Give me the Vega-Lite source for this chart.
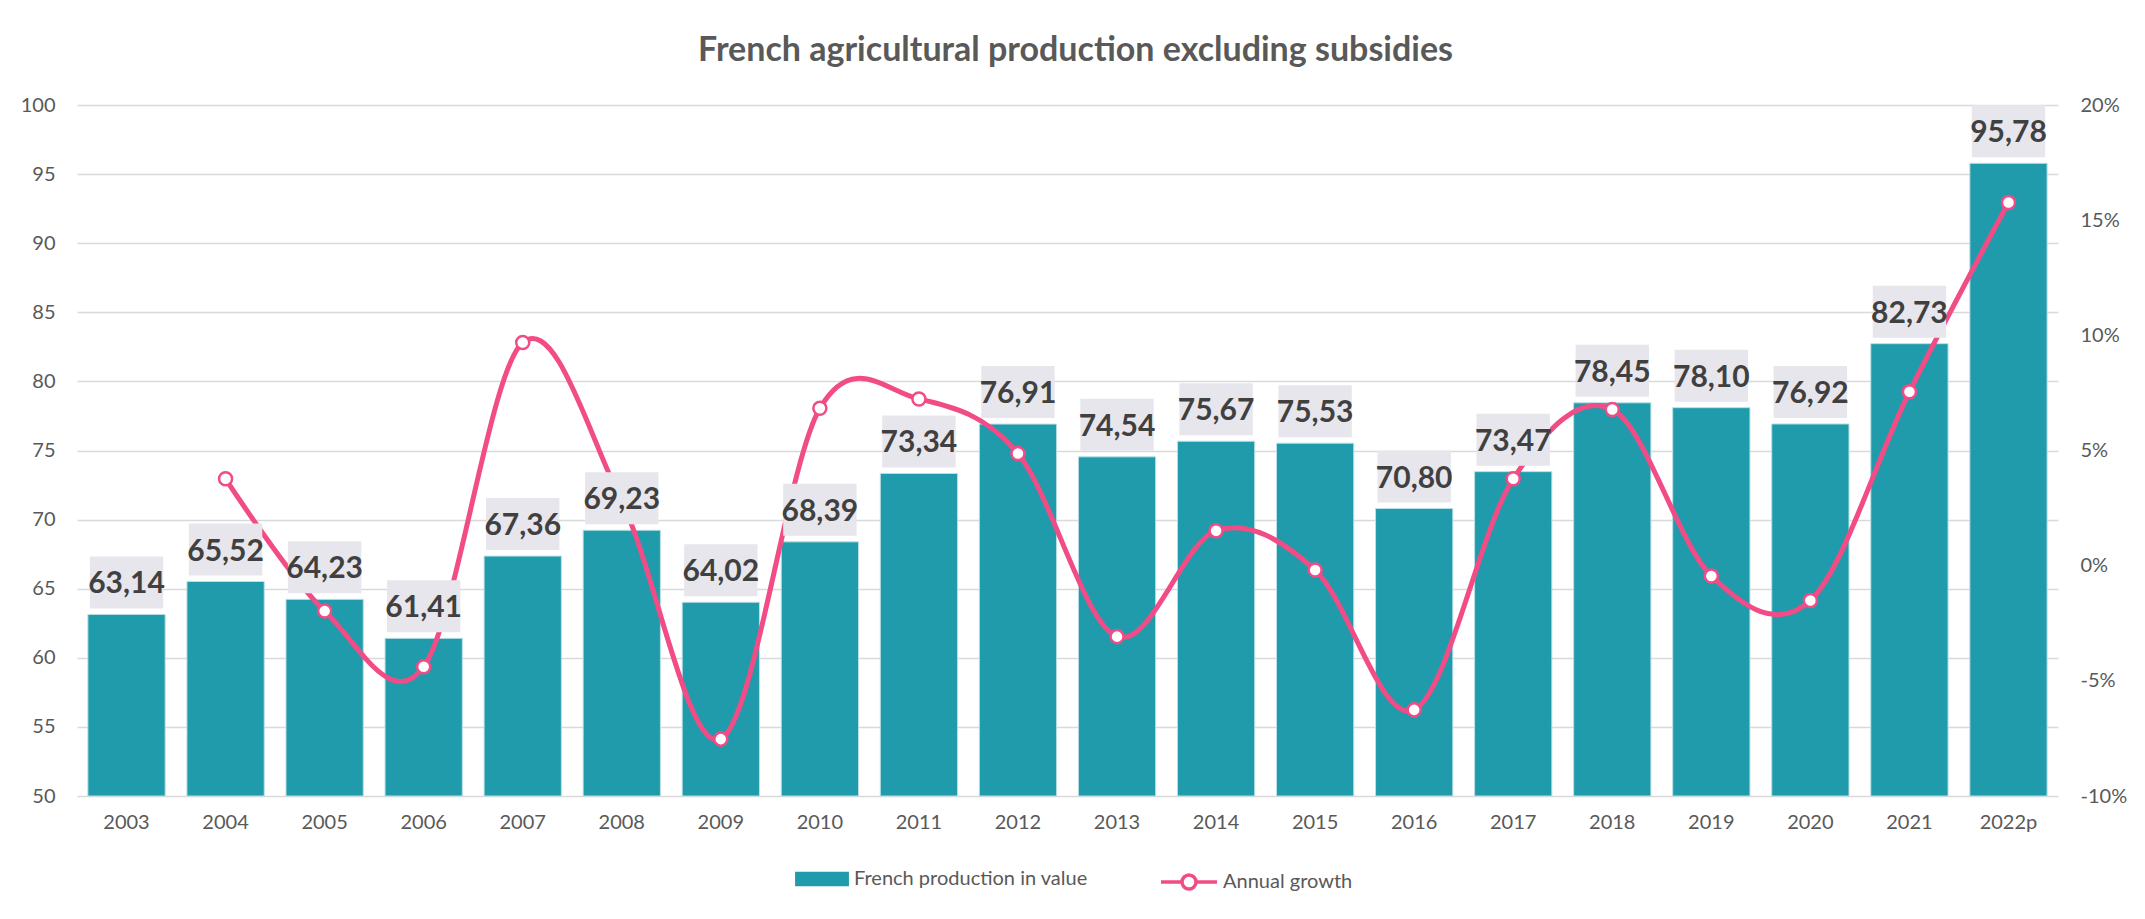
{
  "$schema": "https://vega.github.io/schema/vega-lite/v6.json",
  "width": 1981,
  "height": 691,
  "autosize": {"type": "none"},
  "padding": {"left": 77, "top": 105, "right": 87, "bottom": 123},
  "background": "white",
  "config": {
    "locale": {"number": {"decimal": ",", "thousands": " ", "grouping": [3], "currency": ["", " €"]}},
    "view": {"stroke": null},
    "font": "Lato",
    "axis": {"labelFont": "Lato", "labelFontSize": 20, "labelColor": "#595959", "ticks": false, "domain": false, "title": null, "gridColor": "#D9D9D9", "gridWidth": 1.5},
    "legend": {"labelFont": "Lato", "labelFontSize": 20, "labelColor": "#595959", "labelLimit": 400, "title": null, "symbolOpacity": 1}
  },
  "title": {
    "text": "French agricultural production excluding subsidies",
    "font": "Lato", "fontSize": 34, "fontWeight": "bold", "color": "#595959",
    "frame": "group", "anchor": "middle", "offset": 0, "baseline": "alphabetic", "dx": 8
  },
  "data": {"values": [
    {"year": "2003", "value": 63.14, "growth": null},
    {"year": "2004", "value": 65.52, "growth": 0.0377},
    {"year": "2005", "value": 64.23, "growth": -0.0197},
    {"year": "2006", "value": 61.41, "growth": -0.0439},
    {"year": "2007", "value": 67.36, "growth": 0.0969},
    {"year": "2008", "value": 69.23, "growth": 0.0278},
    {"year": "2009", "value": 64.02, "growth": -0.0753},
    {"year": "2010", "value": 68.39, "growth": 0.0683},
    {"year": "2011", "value": 73.34, "growth": 0.0724},
    {"year": "2012", "value": 76.91, "growth": 0.0487},
    {"year": "2013", "value": 74.54, "growth": -0.0308},
    {"year": "2014", "value": 75.67, "growth": 0.0152},
    {"year": "2015", "value": 75.53, "growth": -0.0019},
    {"year": "2016", "value": 70.80, "growth": -0.0626},
    {"year": "2017", "value": 73.47, "growth": 0.0377},
    {"year": "2018", "value": 78.45, "growth": 0.0678},
    {"year": "2019", "value": 78.10, "growth": -0.0045},
    {"year": "2020", "value": 76.92, "growth": -0.0151},
    {"year": "2021", "value": 82.73, "growth": 0.0755},
    {"year": "2022p", "value": 95.78, "growth": 0.1577}
  ]},
  "encoding": {
    "x": {
      "field": "year", "type": "nominal", "sort": null,
      "scale": {"paddingInner": 0.22, "paddingOuter": 0.11},
      "axis": {"labelAngle": 0, "labelPadding": 16, "grid": false}
    }
  },
  "layer": [
    {
      "layer": [
        {
          "mark": {"type": "bar", "stroke": "#B9E0E5", "strokeWidth": 1},
          "encoding": {
            "y": {"field": "value", "type": "quantitative", "scale": {"domain": [50, 100], "zero": false, "nice": false},
              "axis": {"orient": "left", "values": [50, 55, 60, 65, 70, 75, 80, 85, 90, 95, 100], "grid": true, "labelPadding": 22}},
            "y2": {"datum": 50},
            "fill": {"datum": "French production in value", "type": "nominal",
              "scale": {"domain": ["French production in value"], "range": ["#1F9BAB"]},
              "legend": {
                "orient": "none", "legendX": 718, "legendY": 747, "direction": "horizontal",
                "symbolType": "M-1,-0.27H1V0.27H-1Z", "symbolSize": 2900, "symbolStrokeWidth": 0, "labelOffset": 5
              }
            }
          }
        }
      ]
    },
    {
      "layer": [
        {
          "mark": {"type": "line", "interpolate": "cardinal", "strokeWidth": 5, "strokeCap": "round"},
          "encoding": {
            "y": {"field": "growth", "type": "quantitative", "scale": {"domain": [-0.1, 0.2], "nice": false, "zero": false},
              "axis": {"orient": "right", "values": [-0.1, -0.05, 0, 0.05, 0.1, 0.15, 0.2], "grid": false, "labelPadding": 22,
                "labelExpr": "round(datum.value * 100) + '%'"}},
            "stroke": {"datum": "Annual growth", "type": "nominal",
              "scale": {"domain": ["Annual growth"], "range": ["#F24C86"]},
              "legend": {
                "orient": "none", "legendX": 1082, "legendY": 747, "direction": "horizontal",
                "symbolType": "M-1,0H-0.25M0.25,0H1M0.25,0A0.25,0.25 0 1 1 -0.25,0A0.25,0.25 0 1 1 0.25,0Z",
                "symbolSize": 3136, "symbolStrokeWidth": 3.5, "symbolFillColor": "#ffffff", "labelOffset": 4,
                "encode": {"symbols": {"update": {"fill": {"value": "#ffffff"}, "stroke": {"value": "#F24C86"}, "strokeWidth": {"value": 3.5}, "opacity": {"value": 1}}}}
              }
            }
          }
        },
        {
          "mark": {"type": "point", "shape": "circle", "filled": true, "fill": "#ffffff", "stroke": "#F24C86", "strokeWidth": 2.5, "size": 170, "opacity": 1},
          "encoding": {
            "y": {"field": "growth", "type": "quantitative"}
          }
        }
      ]
    },
    {
      "layer": [
        {
          "mark": {"type": "bar", "color": "#E7E6EC", "width": {"band": 0.95}, "yOffset": -58, "y2Offset": -6},
          "encoding": {
            "y": {"field": "value", "type": "quantitative", "scale": {"domain": [50, 100], "zero": false, "nice": false}, "axis": null},
            "y2": {"field": "value"}
          }
        },
        {
          "mark": {"type": "text", "font": "Lato", "fontSize": 30, "fontWeight": "bold", "color": "#404040", "baseline": "alphabetic", "dy": -21},
          "encoding": {
            "y": {"field": "value", "type": "quantitative"},
            "text": {"field": "value", "type": "quantitative", "format": ".2f"}
          }
        }
      ]
    }
  ],
  "resolve": {"scale": {"y": "independent"}}
}
